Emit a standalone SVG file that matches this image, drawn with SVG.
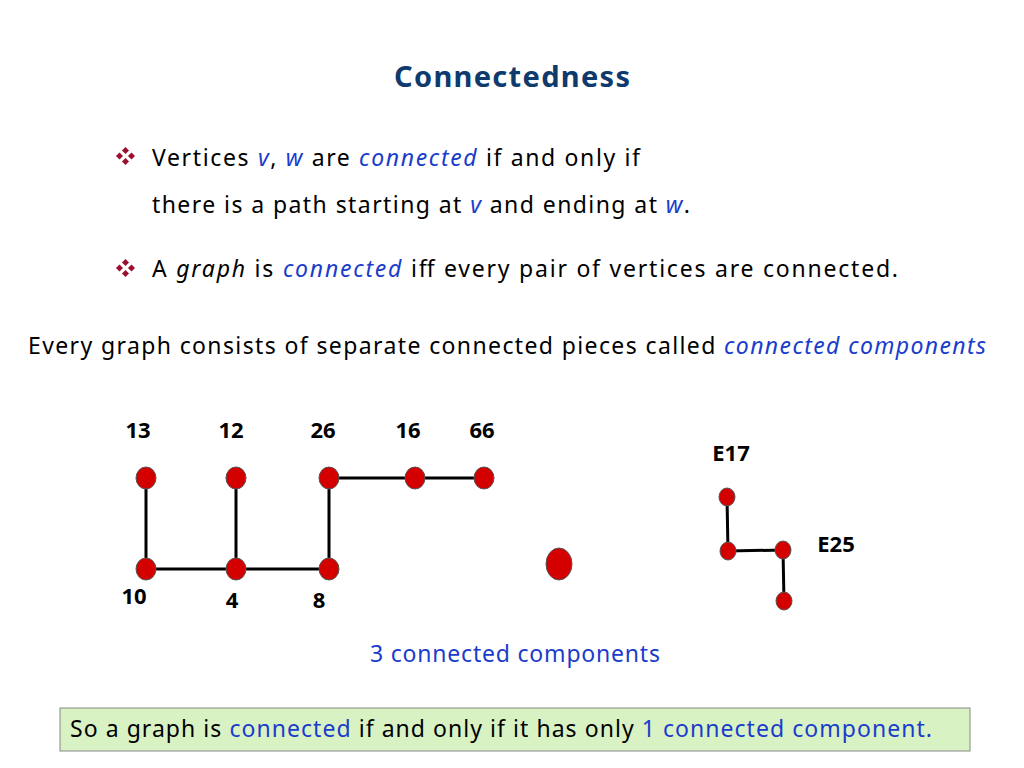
<svg xmlns="http://www.w3.org/2000/svg" width="1024" height="768" viewBox="0 0 1024 768">
<style>
text{font-family:"Noto Sans","DejaVu Sans",sans-serif;font-size:23px;fill:#000}
.b{fill:#1a3ccc}
.i{font-style:italic}
.lbl{font-weight:bold;font-size:22px}
.n{fill:#d40000;stroke:#555;stroke-width:1}
.e{stroke:#000;stroke-width:3;fill:none}
.bul{fill:#9b1030}
</style>
<defs>
<g id="bul"><rect x="-3" y="-8" width="5" height="5" transform="rotate(45 -0.5 -5.5)"/><rect x="-3" y="3" width="5" height="5" transform="rotate(45 -0.5 5.5)"/><rect x="-9" y="-2.5" width="5" height="5" transform="rotate(45 -6.5 0)"/><rect x="3" y="-2.5" width="5" height="5" transform="rotate(45 5.5 0)"/></g>
</defs>
<rect width="1024" height="768" fill="#fff"/>
<text x="512" y="87" text-anchor="middle" textLength="236" style="font-size:29px;font-weight:bold;fill:#0e3a6e">Connectedness</text>
<use href="#bul" x="126" y="156" class="bul"/>
<text x="152" y="166" textLength="488">Vertices <tspan class="b i">v</tspan>, <tspan class="b i">w</tspan> are <tspan class="b i">connected</tspan> if and only if</text>
<text x="152" y="213" textLength="538">there is a path starting at <tspan class="b i">v</tspan>  and ending at <tspan class="b i">w</tspan>.</text>
<use href="#bul" x="126" y="268" class="bul"/>
<text x="152" y="277" textLength="746">A <tspan class="i">graph</tspan> is <tspan class="b i">connected</tspan>  iff every pair of vertices are connected.</text>
<text x="28" y="354" textLength="958">Every graph consists of separate connected pieces called <tspan class="b i">connected components</tspan></text>
<g id="connectors">
<path class="e" d="M146 478V569H329V478H484M236 478V569"/>
<path class="e" d="M727 497L728 551L783 550L784 601"/>
</g>
<g id="n13"><ellipse class="n" cx="146" cy="478" rx="10" ry="11"/><text class="lbl" x="138" y="438" text-anchor="middle">13</text></g>
<g id="n12"><ellipse class="n" cx="236" cy="478" rx="10" ry="11"/><text class="lbl" x="231" y="438" text-anchor="middle">12</text></g>
<g id="n26"><ellipse class="n" cx="329" cy="478" rx="10" ry="11"/><text class="lbl" x="323" y="438" text-anchor="middle">26</text></g>
<g id="n16"><ellipse class="n" cx="415" cy="478" rx="10" ry="11"/><text class="lbl" x="408" y="438" text-anchor="middle">16</text></g>
<g id="n66"><ellipse class="n" cx="484" cy="478" rx="10" ry="11"/><text class="lbl" x="482" y="438" text-anchor="middle">66</text></g>
<g id="n10"><ellipse class="n" cx="146" cy="569" rx="10" ry="11"/><text class="lbl" x="134" y="604" text-anchor="middle">10</text></g>
<g id="n4"><ellipse class="n" cx="236" cy="569" rx="10" ry="11"/><text class="lbl" x="232" y="608" text-anchor="middle">4</text></g>
<g id="n8"><ellipse class="n" cx="329" cy="569" rx="10" ry="11"/><text class="lbl" x="319" y="608" text-anchor="middle">8</text></g>
<g id="iso"><ellipse class="n" cx="559" cy="564" rx="13" ry="16"/></g>
<g id="nE17"><ellipse class="n" cx="727" cy="497" rx="8" ry="9"/><text class="lbl" x="731" y="461" text-anchor="middle">E17</text></g>
<g id="nA"><ellipse class="n" cx="728" cy="551" rx="8" ry="9"/></g>
<g id="nE25"><ellipse class="n" cx="783" cy="550" rx="8" ry="9"/><text class="lbl" x="836" y="552" text-anchor="middle">E25</text></g>
<g id="nB"><ellipse class="n" cx="784" cy="601" rx="8" ry="9"/></g>
<text x="370" y="662" textLength="290" class="b">3 connected components</text>
<rect x="60" y="708" width="910" height="43" fill="#d9f2c4" stroke="#888" stroke-width="1"/>
<text x="70" y="737" textLength="862">So a graph is <tspan class="b">connected</tspan> if and only if it has only <tspan class="b">1 connected component.</tspan></text>
</svg>
